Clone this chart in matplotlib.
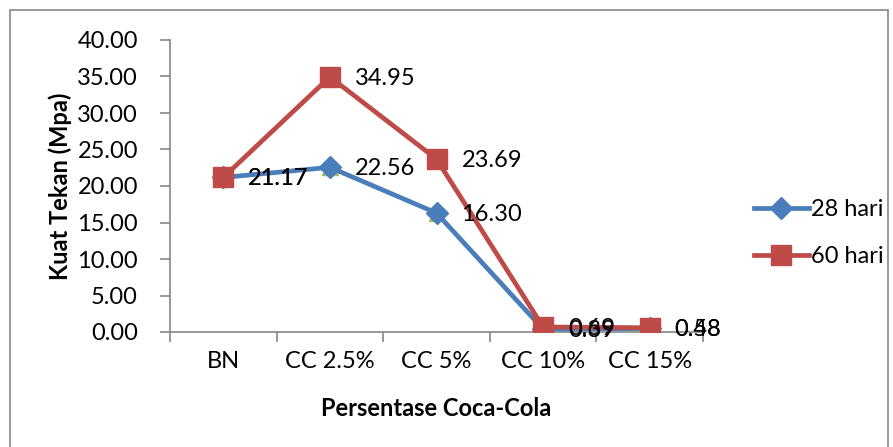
import matplotlib.pyplot as plt
from matplotlib.patches import Rectangle
import numpy as np

plt.rcParams['font.family'] = ['Lato', 'DejaVu Sans']

categories = ['BN', 'CC 2.5%', 'CC 5%', 'CC 10%', 'CC 15%']
hari_28 = [21.17, 22.56, 16.30, 0.39, 0.48]
hari_60 = [21.17, 34.95, 23.69, 0.69, 0.58]
yticks = [0, 5, 10, 15, 20, 25, 30, 35, 40]

blue = '#4A7EBB'
red = '#BE4B48'
green = '#9BBB59'
grey = '#868686'

fig = plt.figure(figsize=(8.93, 4.47), dpi=100)
fig.patches.append(Rectangle((10 / 893, -0.05), 878 / 893, 1.05 - 10 / 447,
                             transform=fig.transFigure, fill=False,
                             edgecolor=grey, linewidth=1.2))

ax = fig.add_axes([170 / 893, 1 - 332 / 447, 533 / 893, 292 / 447])
x = np.arange(len(categories))

# hidden third series peeking out under the blue markers
ax.plot(x, hari_28, linestyle='none', marker='^', markersize=11,
        color=green, zorder=2)
ax.plot(x, hari_28, color=blue, linewidth=3.4, marker='D', markersize=11,
        label='28 hari', zorder=3)
ax.plot(x, hari_60, color=red, linewidth=3.4, marker='s', markersize=14,
        label='60 hari', zorder=4)

for xi, v in zip(x, hari_28):
    ax.annotate(f'{v:.2f}', (xi, v), xytext=(18, -1), textcoords='offset points',
                va='center', ha='left', fontsize=17, zorder=6)
for xi, v in zip(x, hari_60):
    ax.annotate(f'{v:.2f}', (xi, v), xytext=(18, -1), textcoords='offset points',
                va='center', ha='left', fontsize=17, zorder=6)

ax.set_xlim(-0.5, len(categories) - 0.5)
ax.set_ylim(0, 40)
ax.set_yticks(yticks)
ax.set_yticklabels([f'{t:.2f}' for t in yticks], fontsize=17)
ax.set_xticks(x)
ax.set_xticklabels(categories, fontsize=17)
ax.set_xticks(np.arange(len(categories) + 1) - 0.5, minor=True)
ax.tick_params(axis='x', which='major', length=0, pad=14)
ax.tick_params(axis='x', which='minor', length=7, color=grey, width=1.2)
ax.tick_params(axis='y', length=7, color=grey, width=1.2, pad=16)
for side in ['top', 'right']:
    ax.spines[side].set_visible(False)
for side in ['left', 'bottom']:
    ax.spines[side].set_color(grey)
    ax.spines[side].set_linewidth(1.2)
ax.patch.set_alpha(0)

ax.set_ylabel('Kuat Tekan (Mpa)', fontsize=17, fontweight='bold')
ax.yaxis.set_label_coords(-0.183, 0.5)
ax.set_xlabel('Persentase Coca-Cola', fontsize=17, fontweight='bold', labelpad=18)

fig.legend(loc='center left', bbox_to_anchor=(733 / 893, 1 - 233 / 447),
           frameon=False, fontsize=17, handlelength=2.3, handletextpad=0.1,
           labelspacing=1.1)

fig.savefig('out.png', dpi=100)
